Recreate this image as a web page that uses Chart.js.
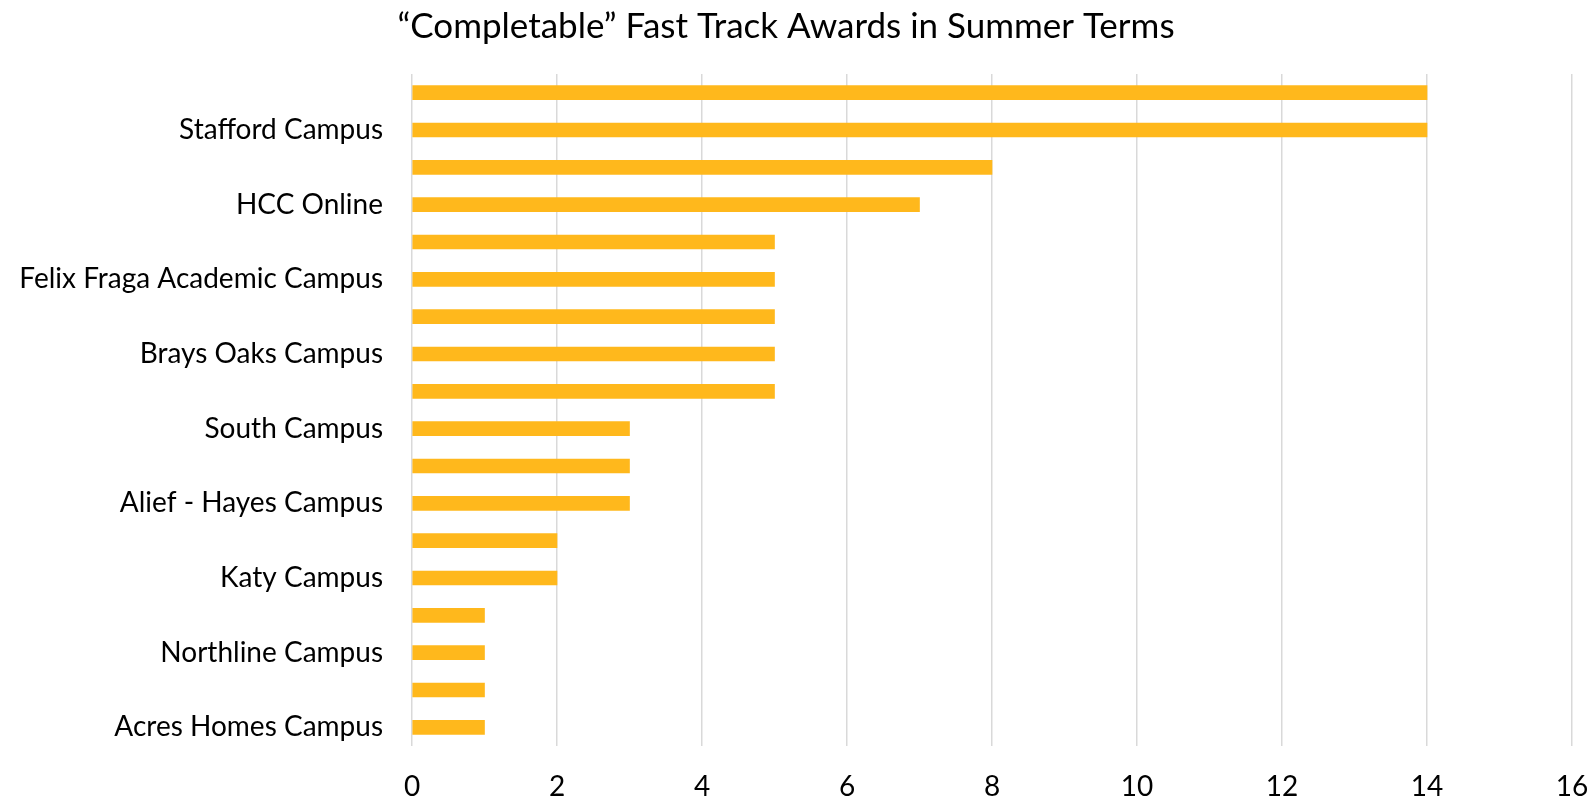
<!DOCTYPE html>
<html>
<head>
<meta charset="utf-8">
<script src="https://cdn.jsdelivr.net/npm/chart.js@4"></script>
<style>
html,body{margin:0;padding:0;background:#fff;}
#wrap{width:1596px;height:800px;}
</style>
</head>
<body>
<div id="wrap"><canvas id="c" width="1596" height="800"></canvas></div>
<script>
const chartTitle = '\u201cCompletable\u201d Fast Track Awards in Summer Terms';
const campuses = [
  'Central Campus', 'Stafford Campus', 'Spring Branch Campus', 'HCC Online',
  'Eastside Campus', 'Felix Fraga Academic Campus', 'West Loop Campus', 'Brays Oaks Campus',
  'Southeast Campus', 'South Campus', 'Coleman Campus', 'Alief - Hayes Campus',
  'Missouri City Campus', 'Katy Campus', 'Northeast Campus', 'Northline Campus',
  'Pinemont Campus', 'Acres Homes Campus'
];
const awards = [14, 14, 8, 7, 5, 5, 5, 5, 5, 3, 3, 3, 2, 2, 1, 1, 1, 1];
const xTicks = [0, 2, 4, 6, 8, 10, 12, 14, 16];

const FONT = 'Lato, "Open Sans", sans-serif';
new Chart(document.getElementById('c'), {
  type: 'bar',
  data: {
    labels: campuses,
    datasets: [{
      data: awards,
      backgroundColor: 'rgb(255,184,28)',
      barThickness: 14,
      borderWidth: 0
    }]
  },
  options: {
    indexAxis: 'y',
    responsive: false,
    animation: false,
    layout: { padding: { left: 0, right: 24, top: 0, bottom: 0 } },
    plugins: {
      legend: { display: false },
      tooltip: { enabled: false },
      title: {
        display: true,
        text: chartTitle,
        color: '#000',
        font: { family: FONT, size: 35, weight: 'normal' },
        padding: { top: 6, bottom: 26 }
      }
    },
    scales: {
      x: {
        min: xTicks[0],
        max: xTicks[xTicks.length - 1],
        afterBuildTicks: (axis) => { axis.ticks = xTicks.map(v => ({ value: v })); },
        afterFit: (axis) => { axis.height = 54; axis.paddingLeft = 0; axis.paddingRight = 0; },
        grid: { color: '#d9d9d9', lineWidth: 1.5, drawTicks: false },
        border: { display: false },
        ticks: { color: '#000', font: { family: FONT, size: 28 }, padding: 24 }
      },
      y: {
        afterFit: (axis) => { axis.width = 412; },
        grid: { display: false, drawTicks: false },
        border: { display: false },
        ticks: {
          autoSkip: false,
          color: '#000',
          font: { family: FONT, size: 28 },
          padding: 29,
          callback: function (value, index) {
            return index % 2 === 1 ? this.getLabelForValue(value) : '';
          }
        }
      }
    }
  }
});
</script>
</body>
</html>
